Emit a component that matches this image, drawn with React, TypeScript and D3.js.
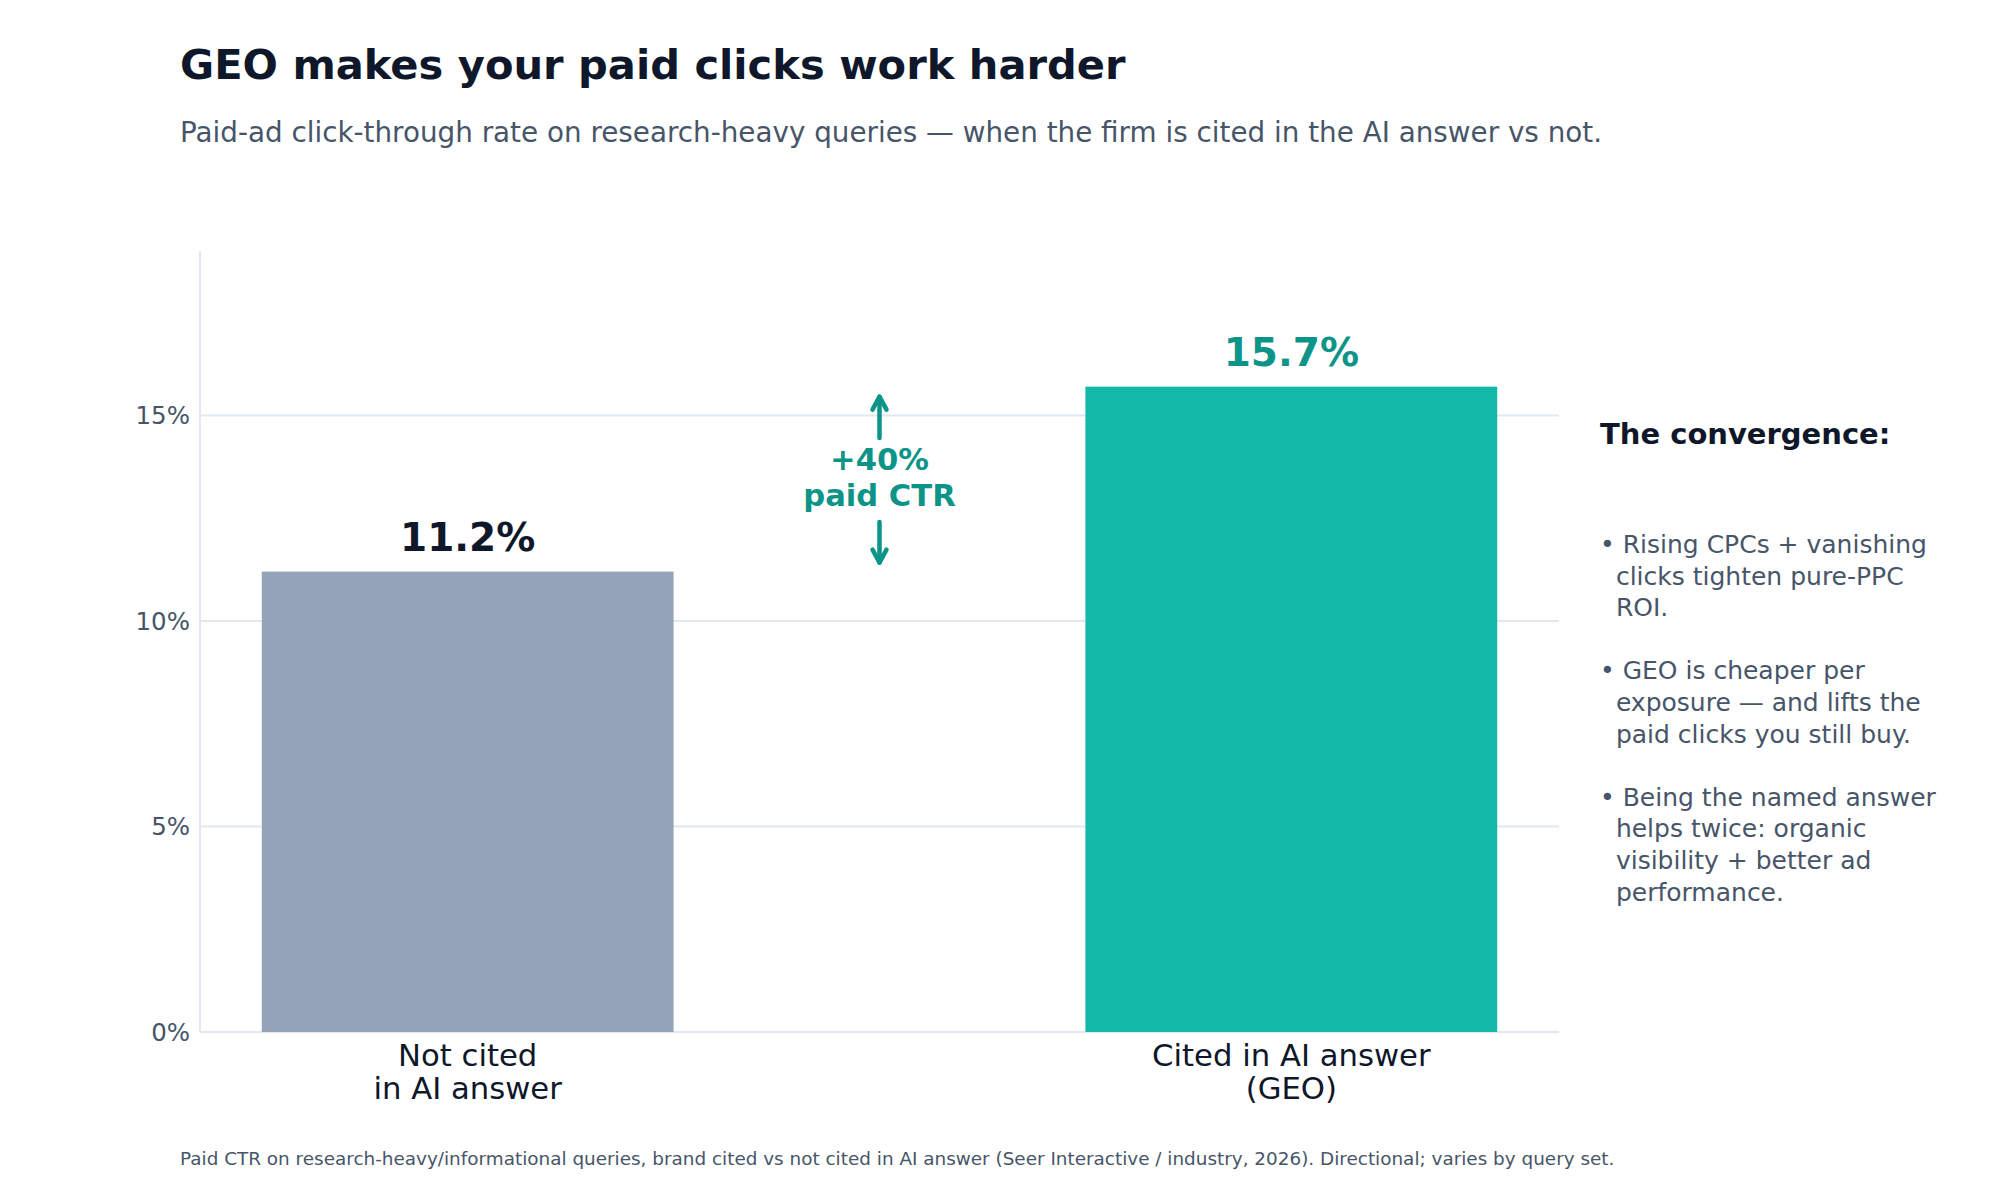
import React from "react";
import * as d3 from "d3";

const categories = ["Not cited\nin AI answer", "Cited in AI answer\n(GEO)"];
const values = [11.2, 15.7];
const valueLabels = ["11.2%", "15.7%"];
const yTicks = [0, 5, 10, 15];
const bulletLines = [
  ["• Rising CPCs + vanishing", "  clicks tighten pure-PPC", "  ROI."],
  ["• GEO is cheaper per", "  exposure — and lifts the", "  paid clicks you still buy."],
  ["• Being the named answer", "  helps twice: organic", "  visibility + better ad", "  performance."],
];
const liftLabel = ["+40%", "paid CTR"];

const W = 2000;
const H = 1200;
const FONT = "'DejaVu Sans', sans-serif";
const DARK = "#0f172a";
const SLATE = "#475569";
const GRID = "#e2e8f0";
const TEAL_TEXT = "#0d9488";
const barColors = ["#94a3b8", "#14b8a6"];
const labelColors = [DARK, TEAL_TEXT];

export default function App() {
  const x = d3.scaleLinear().domain([-0.325, 1.325]).range([200, 1559]);
  const y = d3.scaleLinear().domain([0, 19]).range([1032, 251]);
  const barW = 0.5;

  const midX = x(0.5);
  const lowV = values[0];
  const highV = values[1];

  const arrowHead = (tipY: number, dir: number) => {
    const p = d3.path();
    p.moveTo(midX - 7, tipY + dir * 13);
    p.lineTo(midX, tipY);
    p.lineTo(midX + 7, tipY + dir * 13);
    return p.toString();
  };

  const upTip = y(highV) + 10;
  const downTip = y(lowV) - 9;

  let bulletY = 553;
  const lineH = 31.6;
  const bulletTspans: { t: string; y: number }[] = [];
  bulletLines.forEach((group) => {
    group.forEach((t) => {
      bulletTspans.push({ t, y: bulletY });
      bulletY += lineH;
    });
    bulletY += lineH;
  });

  return (
    <svg
      width={W}
      height={H}
      viewBox={`0 0 ${W} ${H}`}
      style={{ position: "absolute", left: 0, top: 0, background: "#ffffff" }}
      fontFamily={FONT}
    >
      <rect x={0} y={0} width={W} height={H} fill="#ffffff" />
      <text x={180} y={79} fontSize={41.6} fontWeight="bold" fill={DARK}>
        GEO makes your paid clicks work harder
      </text>
      <text x={180} y={142} fontSize={27.8} fill={SLATE}>
        Paid-ad click-through rate on research-heavy queries — when the firm is cited in the AI answer vs not.
      </text>

      {/* gridlines */}
      {yTicks.map((t) => (
        <line key={t} x1={x(-0.325)} x2={x(1.325)} y1={y(t)} y2={y(t)} stroke={GRID} strokeWidth={2} />
      ))}
      <line x1={x(-0.325)} x2={x(-0.325)} y1={y(19)} y2={y(0)} stroke={GRID} strokeWidth={2} />

      {/* bars */}
      {values.map((v, i) => (
        <rect
          key={i}
          x={x(i - barW / 2)}
          width={x(i + barW / 2) - x(i - barW / 2)}
          y={y(v)}
          height={y(0) - y(v)}
          fill={barColors[i]}
        />
      ))}

      {/* y tick labels */}
      {yTicks.map((t) => (
        <text key={t} x={190} y={y(t)} dy="0.36em" textAnchor="end" fontSize={24.5} fill={SLATE}>
          {t}%
        </text>
      ))}

      {/* value labels */}
      {values.map((v, i) => (
        <text key={i} x={x(i)} y={y(v) - 21} textAnchor="middle" fontSize={39} fontWeight="bold" fill={labelColors[i]}>
          {valueLabels[i]}
        </text>
      ))}

      {/* x labels */}
      {categories.map((c, i) => (
        <text key={i} textAnchor="middle" fontSize={30.7} fill={DARK}>
          {c.split("\n").map((ln, j) => (
            <tspan key={j} x={x(i)} y={1066 + j * 32.5}>
              {ln}
            </tspan>
          ))}
        </text>
      ))}

      {/* lift annotation */}
      <g stroke={TEAL_TEXT} strokeWidth={4.5} fill="none" strokeLinecap="round" strokeLinejoin="round">
        <line x1={midX} x2={midX} y1={438} y2={upTip} />
        <path d={arrowHead(upTip, 1)} />
        <line x1={midX} x2={midX} y1={522} y2={downTip} />
        <path d={arrowHead(downTip, -1)} />
      </g>
      <text textAnchor="middle" fontSize={30.6} fontWeight="bold" fill={TEAL_TEXT}>
        {liftLabel.map((ln, j) => (
          <tspan key={j} x={midX} y={470 + j * 35.5}>
            {ln}
          </tspan>
        ))}
      </text>

      {/* side panel */}
      <text x={1600} y={444} fontSize={29} fontWeight="bold" fill={DARK}>
        The convergence:
      </text>
      <text fontSize={25} fill={SLATE} style={{ whiteSpace: "pre" }}>
        {bulletTspans.map((b, k) => (
          <tspan key={k} x={1600} y={b.y}>
            {b.t}
          </tspan>
        ))}
      </text>

      <text x={180} y={1165} fontSize={18.4} fill={SLATE}>
        Paid CTR on research-heavy/informational queries, brand cited vs not cited in AI answer (Seer Interactive / industry, 2026). Directional; varies by query set.
      </text>
    </svg>
  );
}
